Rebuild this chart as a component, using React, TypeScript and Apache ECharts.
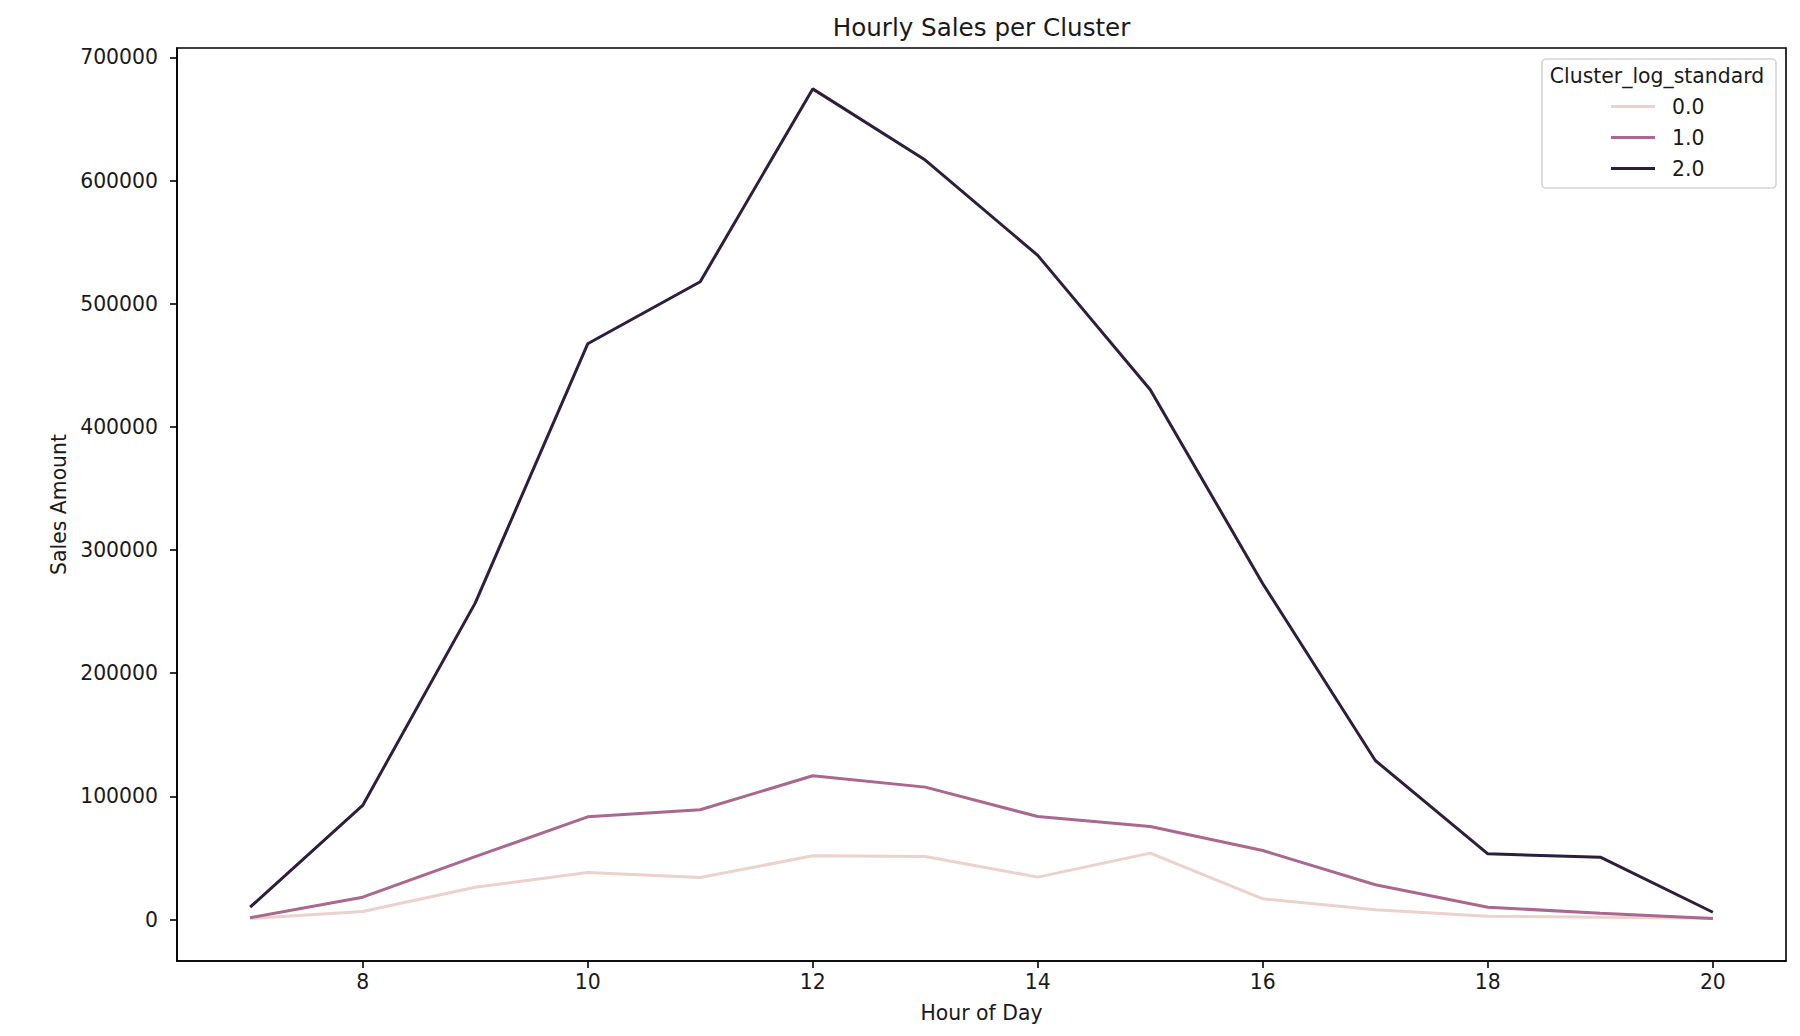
import { useEffect, useRef } from 'react';
import * as echarts from 'echarts';

const hours = [7, 8, 9, 10, 11, 12, 13, 14, 15, 16, 17, 18, 19, 20];
const clusterNames = ['0.0', '1.0', '2.0'];
const cluster0 = [800, 6500, 26200, 38200, 34100, 51700, 51200, 34400, 53900, 16800, 7900, 2700, 1900, 1000];
const cluster1 = [1500, 18100, 51000, 83400, 89100, 116700, 107500, 83600, 75500, 56000, 28200, 10000, 5100, 800];
const cluster2 = [10000, 92600, 256900, 467500, 517900, 674500, 616700, 539300, 430200, 272700, 129100, 53300, 50600, 5900];
const xTicks = [8, 10, 12, 14, 16, 18, 20];
const yTicks = [0, 100000, 200000, 300000, 400000, 500000, 600000, 700000];

const colors = ['#edd1cb', '#aa678f', '#2d1e3e'];
const FONT = 'DejaVu Sans';
const TEXT = '#1a1a1a';
const FS = 20.4;

export default function App() {
  const chartRef = useRef<HTMLDivElement>(null);

  useEffect(() => {
    if (!chartRef.current) return;
    const chart = echarts.init(chartRef.current, null, { renderer: 'svg' });
    const values = [cluster0, cluster1, cluster2];

    chart.setOption({
      animation: false,
      backgroundColor: '#ffffff',
      textStyle: { fontFamily: FONT },
      title: {
        text: 'Hourly Sales per Cluster',
        left: 981.5,
        top: 15,
        textAlign: 'center',
        padding: 0,
        textStyle: { fontFamily: FONT, fontSize: 24.6, fontWeight: 'normal', color: TEXT },
      },
      grid: {
        left: 177,
        right: 14,
        top: 48,
        bottom: 75,
        show: true,
        borderColor: '#000',
        borderWidth: 1.6,
        backgroundColor: 'transparent',
      },
      legend: {
        data: clusterNames.map((name, i) => ({ name, icon: 'rect', itemStyle: { color: colors[i] } })),
        orient: 'vertical',
        left: 1611,
        top: 96,
        padding: 0,
        itemWidth: 44,
        itemHeight: 3,
        itemGap: 10,
        textStyle: { fontFamily: FONT, fontSize: FS, color: TEXT, padding: [0, 0, 0, 12], lineHeight: 21 },
      },
      graphic: [
        {
          type: 'rect',
          z: 0,
          shape: { x: 1542, y: 59, width: 234, height: 129, r: 4 },
          style: { fill: 'none', stroke: '#d4d4d4', lineWidth: 1.6 },
        },
        {
          type: 'text',
          x: 1657,
          y: 76,
          style: {
            text: 'Cluster_log_standard',
            fontFamily: FONT,
            fontSize: FS,
            fill: TEXT,
            align: 'center',
            verticalAlign: 'middle',
          },
        },
      ],
      xAxis: {
        type: 'value',
        min: 6.35,
        max: 20.65,
        name: 'Hour of Day',
        nameLocation: 'middle',
        nameGap: 42,
        nameTextStyle: { fontFamily: FONT, fontSize: FS, color: TEXT },
        axisLine: { show: true, onZero: false, lineStyle: { color: '#000', width: 1.6 } },
        axisTick: { show: true, length: 7, lineStyle: { color: '#000', width: 1.6 }, customValues: xTicks },
        axisLabel: { fontFamily: FONT, fontSize: FS, color: TEXT, margin: 11, customValues: xTicks },
        splitLine: { show: false },
      },
      yAxis: {
        type: 'value',
        min: -33700,
        max: 707700,
        name: 'Sales Amount',
        nameLocation: 'middle',
        nameGap: 104,
        nameRotate: 90,
        nameTextStyle: { fontFamily: FONT, fontSize: FS, color: TEXT },
        axisLine: { show: true, onZero: false, lineStyle: { color: '#000', width: 1.6 } },
        axisTick: { show: true, length: 7, lineStyle: { color: '#000', width: 1.6 }, customValues: yTicks },
        axisLabel: {
          fontFamily: FONT,
          fontSize: FS,
          color: TEXT,
          margin: 19,
          customValues: yTicks,
          formatter: (v: number) => String(v),
        },
        splitLine: { show: false },
      },
      series: clusterNames.map((name, i) => ({
        name,
        type: 'line',
        symbol: 'none',
        color: colors[i],
        lineStyle: { color: colors[i], width: 3 },
        data: hours.map((h, j) => [h, values[i][j]]),
      })),
    });

    return () => chart.dispose();
  }, []);

  return (
    <div
      ref={chartRef}
      style={{ position: 'absolute', left: 0, top: 0, width: 1800, height: 1036 }}
    />
  );
}
